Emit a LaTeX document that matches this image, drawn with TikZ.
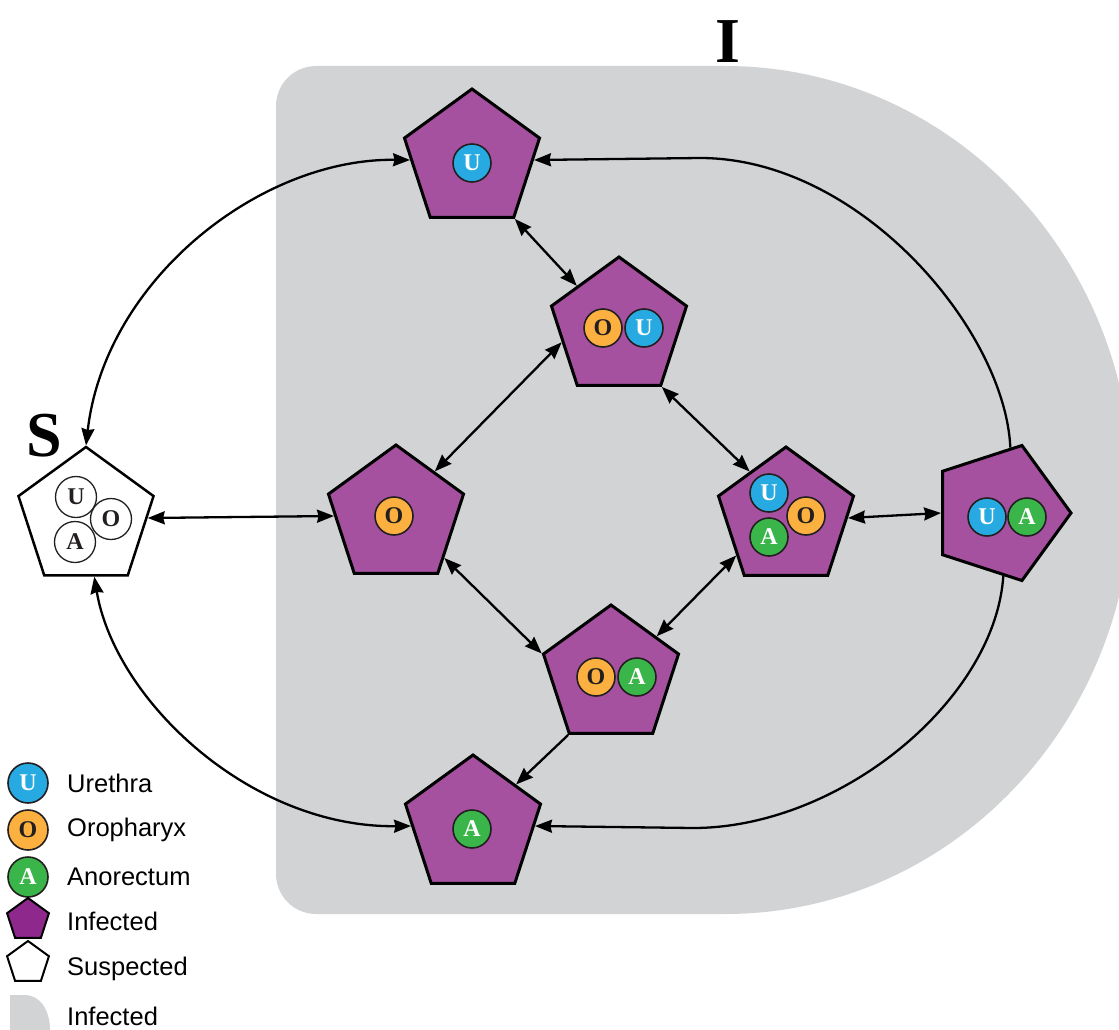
\documentclass[tikz,border=0pt]{standalone}
\usepackage{fontspec}
\setmainfont{Liberation Serif}
\newfontfamily\legendfont{Liberation Sans}
\usetikzlibrary{arrows.meta,shapes.geometric}

\definecolor{zone}{RGB}{209,211,212}
\definecolor{infect}{RGB}{165,81,160}
\definecolor{infectkey}{RGB}{142,40,140}
\definecolor{uro}{RGB}{39,170,225}
\definecolor{oro}{RGB}{251,176,64}
\definecolor{ano}{RGB}{57,181,74}
\definecolor{ink}{RGB}{35,31,32}

\tikzset{
  state/.style={regular polygon, regular polygon sides=5, minimum size=142pt,
    inner sep=0pt, draw=black, line width=3pt, fill=infect},
  suspect/.style={state, fill=white, line width=2.5pt},
  site/.style={circle, minimum size=38pt, inner sep=0pt, draw=ink, line width=1.6pt,
    font=\fontsize{24}{24}\selectfont\bfseries},
  siteU/.style={site, fill=uro, text=white},
  siteO/.style={site, fill=oro, text=ink},
  siteA/.style={site, fill=ano, text=white},
  siteW/.style={site, fill=white, text=ink, minimum size=41pt, line width=1.3pt},
  link/.style={line width=2.3pt, {Stealth[length=17pt,width=13pt,inset=1.5pt]}-{Stealth[length=17pt,width=13pt,inset=1.5pt]}},
  oneway/.style={line width=2.3pt, -{Stealth[length=17pt,width=13pt,inset=1.5pt]}},
  keytext/.style={anchor=west, inner sep=0pt, font=\legendfont\fontsize{25.5}{25.5}\selectfont},
  big/.style={font=\fontsize{64}{64}\selectfont\bfseries},
}

\begin{document}
\begin{tikzpicture}[x=1pt, y=-1pt]
\useasboundingbox (0,0) rectangle (1119,1030);

% infected compartment
\begin{scope}
  \clip (0,0) rectangle (1119,1030);
  \fill[zone] (316,66) -- (725,66)
    .. controls (950,66) and (1132,256) .. (1132,490)
    .. controls (1132,724) and (950,914) .. (725,914)
    -- (316,914) .. controls (294,914) and (276,896) .. (276,874)
    -- (276,106) .. controls (276,84) and (294,66) .. (316,66) -- cycle;
\end{scope}
\node[big] (Ilabel) at (728,42) {I};
\node[big] (Slabel) at (44,436) {S};

% states
\node[suspect] (S) at (86,518) {};
\node[state] (U) at (472,160) {};
\node[state] (OU) at (619,328) {};
\node[state] (O) at (396,516) {};
\node[state] (UOA) at (786,518) {};
\node[state, shape border rotate=-90] (UA) at (1000,513) {};
\node[state] (OA) at (611,676) {};
\node[state] (A) at (473,826) {};

% infection sites
\node[siteW] (sU) at (76,497) {U};
\node[siteW] (sO) at (111,519) {O};
\node[siteW] (sA) at (75,542) {A};
\node[siteU] (uU) at (472,163) {U};
\node[siteO] (ouO) at (603,328) {O};
\node[siteU] (ouU) at (644,328) {U};
\node[siteO] (oO) at (394,516) {O};
\node[siteU] (uoaU) at (769,493) {U};
\node[siteO] (uoaO) at (806,516) {O};
\node[siteA] (uoaA) at (769,537) {A};
\node[siteU] (uaU) at (987,517) {U};
\node[siteA] (uaA) at (1027,517) {A};
\node[siteO] (oaO) at (596,677) {O};
\node[siteA] (oaA) at (637,677) {A};
\node[siteA] (aA) at (472,829) {A};

% transitions
\draw[link] (S.corner 1) .. controls (105,280) and (260,158) .. (U.west);
\draw[link] (S.-82) .. controls (115,700) and (250,828) .. (A.west);
\draw[link] (S.east) -- (O.west);
\draw[link] (U.corner 4) -- (OU.135);
\draw[link] (OU.194) -- (O.49);
\draw[link] (OU.corner 4) -- (UOA.128);
\draw[link] (O.-41) -- (OA.corner 2);
\draw[link] (UOA.217) -- (OA.41);
\draw[link] (UOA.east) -- (UA.west);
\draw[oneway] (OA.corner 3) -- (A.44);
\draw[oneway] (UA.81) .. controls (1005,330) and (860,158) .. (700,158) -- (U.east);
\draw[oneway] (UA.-87) .. controls (995,700) and (840,828) .. (693,828) -- (A.east);

% key
\node[site, fill=uro, text=white, minimum size=40pt] (kU) at (28,783) {U};
\node[site, fill=oro, text=ink, minimum size=40pt] (kO) at (28,830) {O};
\node[site, fill=ano, text=white, minimum size=40pt] (kA) at (28,877) {A};
\node[regular polygon, regular polygon sides=5, minimum size=44pt, inner sep=0pt,
  draw=black, line width=2pt, fill=infectkey] (kI) at (28,920) {};
\node[regular polygon, regular polygon sides=5, minimum size=44pt, inner sep=0pt,
  draw=black, line width=2pt, fill=white] (kS) at (28,963) {};
\fill[zone] (10,995) -- (25,995) .. controls (40,995) and (50,1010) .. (50,1030)
  -- (10,1030) -- cycle;
\node[keytext] (tU) at (67,783) {Urethra};
\node[keytext] (tO) at (67,830) {Oropharyx};
\node[keytext] (tA) at (67,877) {Anorectum};
\node[keytext] (tI) at (67,921) {Infected};
\node[keytext] (tS) at (67,969) {Suspected};
\node[keytext] (tZ) at (67,1016) {Infected};
\end{tikzpicture}
\end{document}
